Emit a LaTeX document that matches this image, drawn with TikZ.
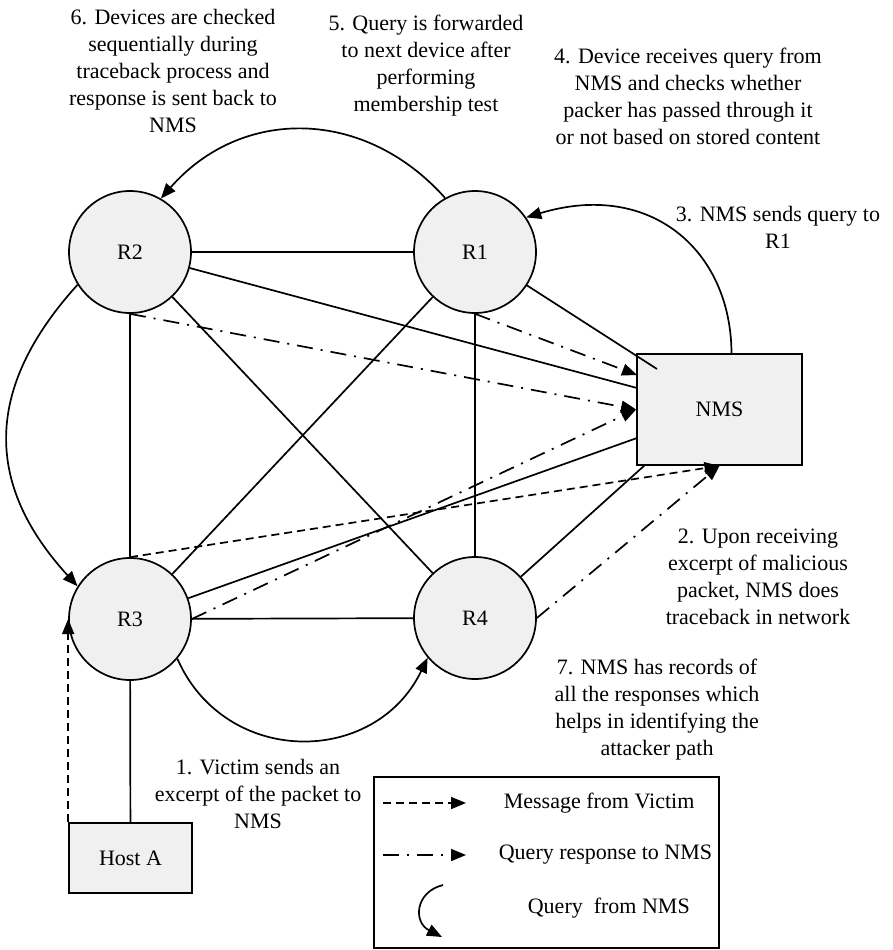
\documentclass[tikz,border=0pt]{standalone}
\usepackage{fontspec}
\setmainfont{Liberation Serif}
\usetikzlibrary{arrows.meta}

\tikzset{router/.style={circle, draw, fill=black!6, minimum size=122pt, inner sep=0pt},
  box/.style={rectangle, draw, fill=black!6, inner sep=0pt},
  note/.style={align=center},
  victim/.style={dash pattern=on 8pt off 5pt},
  reply/.style={dash pattern=on 16pt off 8pt on 2pt off 8pt}}

\begin{document}
\begin{tikzpicture}[x=1pt, y=-1pt, line width=1.7pt, font=\fontsize{22}{27}\selectfont, >={Triangle[length=15pt,width=12pt]}]

\useasboundingbox (0,0) rectangle (892,950);

\node [router] (r2) at (130,252) {R2};
\node [router] (r1) at (475,252) {R1};
\node [router] (r3) at (130,619) {R3};
\node [router] (r4) at (475,618) {R4};

\node [box, minimum width=165pt, minimum height=111pt] (nms) at (719.5,409.5) {NMS};
\node [box, minimum width=123pt, minimum height=70pt] (hosta) at (130.5,858) {Host A};


\draw (r2) -- (r1);
\draw (r2) -- (r3);
\draw (r1) -- (r4);
\draw (r3) -- (r4);
\draw (r2) -- (r4);
\draw (r1) -- (r3);
\draw (r3) -- (hosta);

\coordinate (n1) at (657,369);
\coordinate (n2) at (637,388);
\coordinate (n3) at (637,438);
\coordinate (n4) at (645,465);
\draw (r1) -- (n1);
\draw (r2) -- (n2);
\draw (r3) -- (n3);
\draw (r4) -- (n4);


\draw [victim, ->] (hosta.north west) -- (r3.west);
\draw [victim, ->] (r3.north) -- (nms.south);

\coordinate (in1) at (637,375);
\draw [reply, ->] (r1.south) -- (in1);
\draw [reply, ->] (r2.south) -- (nms.west);
\draw [reply, ->] (r3.east) -- (nms.west);
\draw [reply, ->] (r4.east) -- (nms.south);


\draw [->] ([xshift=12pt]nms.north) .. controls (731,250) and (650,180) .. (r1.34);
\draw [->] (r1.119) .. controls (364,107) and (241,107) .. (r2.60);
\draw [->] (r2.212) .. controls (-16,388) and (-16,484) .. (r3.148);
\draw [->] (r3.-40) .. controls (225,767) and (375,767) .. (r4.220);


\node [note] (t6) at (173,71) {6. Devices are checked\\ sequentially during\\ traceback process and\\ response is sent back to\\ NMS};
\node [note] (t5) at (426,66) {5. Query is forwarded\\ to next device after\\ performing\\ membership test};
\node [note] (t4) at (688,96) {4. Device receives query from\\ NMS and checks whether\\ packer has passed through it\\ or not based on stored content};
\node [note] (t3) at (778,227) {3. NMS sends query to\\ R1};
\node [note] (t2) at (758,577) {2. Upon receiving\\ excerpt of malicious\\ packet, NMS does\\ traceback in network};
\node [note] (t7) at (657,710) {7. NMS has records of\\ all the responses which\\ helps in identifying the\\ attacker path};
\node [note] (t1) at (258,794) {1. Victim sends an\\ excerpt of the packet to\\ NMS};

% legend
\node [draw, minimum width=345pt, minimum height=171pt, inner sep=0pt] (key) at (546.5,862.5) {};

\coordinate (k1a) at (383,803);
\coordinate (k1b) at (466,803);
\coordinate (k2a) at (383,855);
\coordinate (k2b) at (466,855);
\coordinate (k3a) at (443,885);
\coordinate (k3b) at (442,937);

\draw [victim, ->] (k1a) -- (k1b);
\draw [reply, ->] (k2a) -- (k2b);
\draw [->] (k3a) .. controls (415,892) and (413,922) .. (k3b);

\node [anchor=west, inner sep=0pt] (k1) at (503,803) {Message from Victim};
\node [anchor=west, inner sep=0pt] (k2) at (498,855) {Query response to NMS};
\node [anchor=west, inner sep=0pt] (k3) at (527,908) {Query\ \ from NMS};

\end{tikzpicture}
\end{document}
